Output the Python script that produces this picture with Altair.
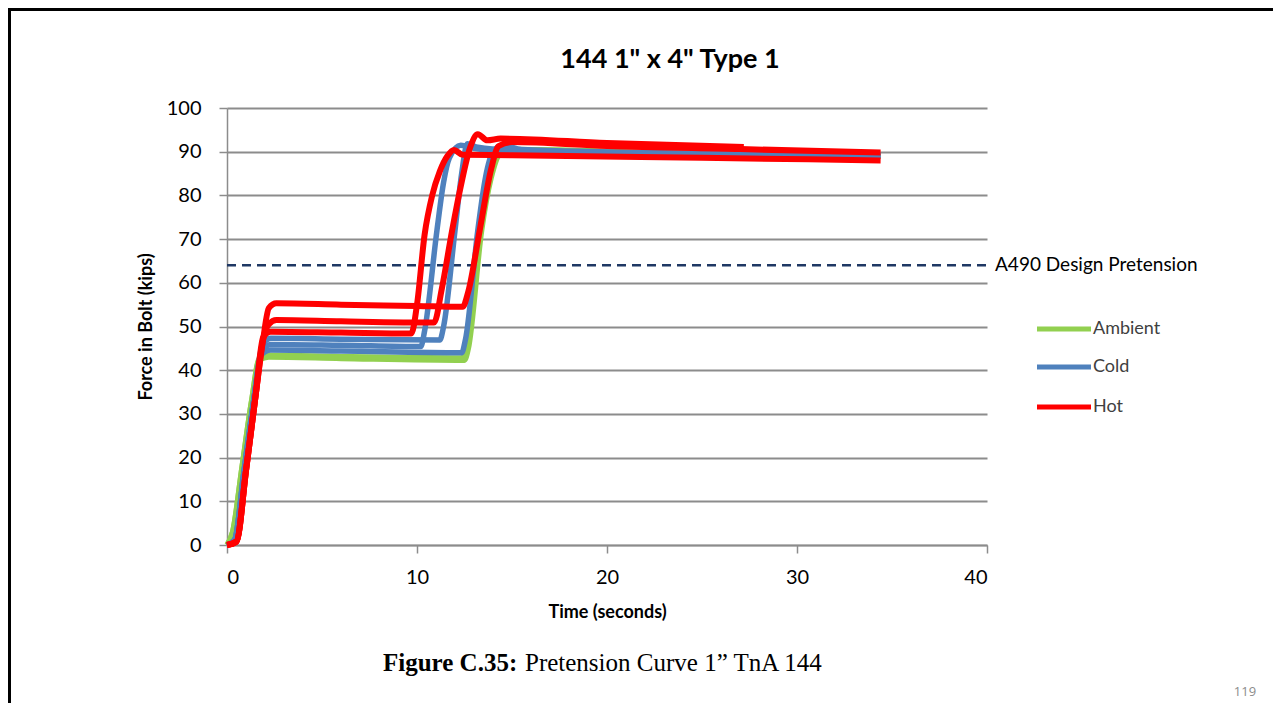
import altair as alt
import pandas as pd

# ---------------- data ----------------
series_names = ["Ambient", "Cold", "Hot"]
series_colors = ["#92D050", "#4F81BD", "#FF0000"]

amb_a_t = [0, 0.3, 0.8, 1.3, 1.7, 2.2, 6.0, 12.5, 12.7, 13.4, 13.9, 14.4, 15.0, 20.0, 29.5]
amb_a_f = [0, 3, 18, 33, 42.3, 43.0, 42.7, 42.3, 45, 72, 84, 89.5, 90, 89.5, 88.9]
amb_b_t = [0, 0.3, 0.8, 1.3, 1.7, 2.2, 6.0, 12.4, 12.6, 13.3, 13.8, 14.3, 15.0, 25.0, 34.4]
amb_b_f = [0, 3, 18, 33, 42.6, 43.4, 43.1, 42.8, 46, 72, 85, 90, 90.5, 89.5, 89.0]

cold_a_t = [0, 0.4, 0.9, 1.4, 1.85, 2.3, 6.0, 11.2, 11.4, 12.0, 12.35, 12.65, 13.2, 15.0, 25.0, 34.4]
cold_a_f = [0, 1.2, 17, 33, 45.5, 47.3, 47.1, 46.9, 50, 72, 85, 91.8, 91.0, 90.3, 89.6, 89.2]
cold_b_t = [0, 0.4, 0.9, 1.4, 1.85, 2.3, 6.0, 10.2, 10.4, 11.05, 11.4, 11.7, 12.3, 13.0, 15.0, 25.0, 34.4]
cold_b_f = [0, 1.2, 17, 33, 44.5, 45.9, 45.7, 45.4, 49, 72, 83, 88.5, 91.5, 90.8, 90.0, 89.4, 89.0]
cold_c_t = [0, 0.4, 0.9, 1.4, 1.8, 2.3, 6.0, 12.35, 12.55, 13.2, 13.6, 14.0, 14.5, 15.5, 25.0, 30.0]
cold_c_f = [0, 1.2, 17, 33, 43.5, 44.6, 44.4, 44.0, 47, 72, 84, 90, 91.5, 90.5, 89.6, 89.3]

hot_a_t = [0, 0.5, 1.0, 1.5, 1.9, 2.2, 2.6, 6.0, 10.0, 12.4, 12.7, 13.3, 13.9, 14.3, 15.0, 20.0, 27.0, 34.4]
hot_a_f = [0, 0.8, 17, 34, 47, 54.2, 55.3, 55.0, 54.7, 54.5, 58, 72, 86, 91.3, 92.2, 91.3, 90.6, 89.8]
hot_b_t = [0, 0.5, 1.0, 1.5, 1.9, 2.2, 2.6, 6.0, 10.9, 11.3, 11.85, 12.3, 12.8, 13.2, 13.7, 14.4, 20.0, 27.2]
hot_b_f = [0, 0.8, 17, 34, 47, 50.5, 51.5, 51.2, 50.9, 58.5, 72, 82, 91, 94, 92.6, 93.0, 92.0, 91.1]
hot_c_t = [0, 0.5, 1.0, 1.5, 1.9, 2.3, 6.0, 9.7, 10.0, 10.4, 10.8, 11.2, 11.6, 11.95, 12.4, 15.0, 25.0, 34.4]
hot_c_f = [0, 0.8, 17, 34, 47.5, 48.8, 48.6, 48.4, 55, 71, 80, 85.5, 89, 90.4, 89.3, 89.2, 88.6, 88.0]

x_ticks = [0, 10, 20, 30, 40]
y_ticks = [0, 10, 20, 30, 40, 50, 60, 70, 80, 90, 100]
design_pretension = 64
design_label = "A490 Design Pretension"
title_text = '144 1" x 4" Type 1'
x_title = "Time (seconds)"
y_title = "Force in Bolt (kips)"
caption_bold = "Figure C.35:"
caption_rest = "Pretension Curve 1\u201d TnA 144"
page_number = "119"

curves = {
    "Ambient": [(amb_a_t, amb_a_f), (amb_b_t, amb_b_f)],
    "Cold": [(cold_a_t, cold_a_f), (cold_b_t, cold_b_f), (cold_c_t, cold_c_f)],
    "Hot": [(hot_a_t, hot_a_f), (hot_b_t, hot_b_f), (hot_c_t, hot_c_f)],
}


def frame(name):
    rows = []
    for i, (ts, fs) in enumerate(curves[name]):
        for t, f in zip(ts, fs):
            rows.append({"t": t, "f": f, "series": name, "curve": f"{name}{i}"})
    return pd.DataFrame(rows)


W, H = 760, 437
PAD = {"left": 219, "top": 100, "right": 286, "bottom": 158}
FONT = "Lato"
GRID = "#8c8c8c"

x_scale = alt.Scale(domain=[0, 40], nice=False, zero=False)
y_scale = alt.Scale(domain=[0, 100], nice=False)
color_scale = alt.Scale(domain=series_names, range=series_colors)

x_axis = alt.Axis(values=x_ticks, title=x_title, grid=False, labelFontSize=20, labelFont=FONT,
                  labelColor="#000000", labelPadding=14, tickSize=8, tickColor=GRID, tickWidth=1.5,
                  domainColor=GRID, domainWidth=1.5, titleFont=FONT, titleFontSize=18,
                  titleFontWeight="bold", titleColor="#000000", titleX=380, titleY=67,
                  titleBaseline="middle", titleAlign="center")
y_axis = alt.Axis(values=y_ticks, title=y_title, grid=True, gridColor=GRID, gridWidth=2,
                  labelFontSize=20, labelFont=FONT, labelColor="#000000", labelPadding=18,
                  tickSize=8, tickColor=GRID, tickWidth=1.5, domainColor=GRID, domainWidth=1.5,
                  titleFont=FONT, titleFontSize=18, titleFontWeight="bold", titleColor="#000000",
                  titleX=-81, titleY=H / 2, titleAngle=-90, titleBaseline="middle", titleAlign="center")


def curve_layer(name, width):
    return alt.Chart(frame(name)).mark_line(
        strokeWidth=width, interpolate="monotone", strokeJoin="round", strokeCap="butt"
    ).encode(
        x=alt.X("t:Q", scale=x_scale, axis=x_axis),
        y=alt.Y("f:Q", scale=y_scale, axis=y_axis),
        color=alt.Color("series:N", scale=color_scale, legend=None),
        detail="curve:N",
    )


design_df = pd.DataFrame({"x0": [0], "x1": [40], "y": [design_pretension], "label": [design_label]})
design_rule = alt.Chart(design_df).mark_rule(
    strokeDash=[9, 6], strokeWidth=2.5, color="#1F3864"
).encode(
    x=alt.X("x0:Q", scale=x_scale, axis=x_axis),
    x2="x1:Q",
    y=alt.Y("y:Q", scale=y_scale, axis=y_axis),
)
design_text = alt.Chart(design_df).mark_text(
    align="left", baseline="middle", dx=8, fontSize=19, font=FONT, color="#000000"
).encode(
    x=alt.X("x1:Q", scale=x_scale, axis=x_axis),
    y=alt.Y("y:Q", scale=y_scale, axis=y_axis),
    text="label:N",
)

one = pd.DataFrame({"a": [0]})


def text_at(txt, x, y, size, **kw):
    return alt.Chart(one).mark_text(text=txt, fontSize=size, **kw).encode(
        x=alt.value(x), y=alt.value(y)
    )


title = text_at(title_text, 443, -48, 27, font=FONT, fontWeight="bold", align="center",
                baseline="middle", color="#000000")

legend_layers = []
legend_rows_y = [221, 259, 299]
for name, col, yy in zip(series_names, series_colors, legend_rows_y):
    legend_layers.append(
        alt.Chart(one).mark_rule(color=col, strokeWidth=5).encode(
            x=alt.value(810), x2=alt.value(864), y=alt.value(yy)
        )
    )
    legend_layers.append(
        text_at(name, 866, yy, 18, font=FONT, align="left", baseline="middle", color="#404040")
    )

caption1 = text_at(caption_bold, 156, 563, 25, font="Liberation Serif", fontWeight="bold",
                   align="left", baseline="alphabetic", color="#000000")
caption2 = text_at(caption_rest, 298, 563, 25, font="Liberation Serif",
                   align="left", baseline="alphabetic", color="#000000")
pagenum = text_at(page_number, 1018, 584, 13, font="Open Sans", align="center",
                  baseline="middle", color="#8c8c8c")

border_top = alt.Chart(one).mark_rule(color="#000000", strokeWidth=3).encode(
    x=alt.value(-219), x2=alt.value(W + PAD["right"]), y=alt.value(-98.5)
)
border_left = alt.Chart(one).mark_rule(color="#000000", strokeWidth=3).encode(
    x=alt.value(-217.5), y=alt.value(-100), y2=alt.value(H + PAD["bottom"])
)

chart = alt.layer(
    design_rule,
    curve_layer("Ambient", 5.5),
    curve_layer("Cold", 5.5),
    curve_layer("Hot", 6),
    design_text,
    title,
    *legend_layers,
    caption1,
    caption2,
    pagenum,
    border_top,
    border_left,
).properties(
    width=W, height=H, padding=PAD, autosize=alt.AutoSizeParams(type="none"),
    background="#ffffff",
).configure_view(stroke=None)

chart.save("out.html", embed_options={"renderer": "svg", "actions": False})
